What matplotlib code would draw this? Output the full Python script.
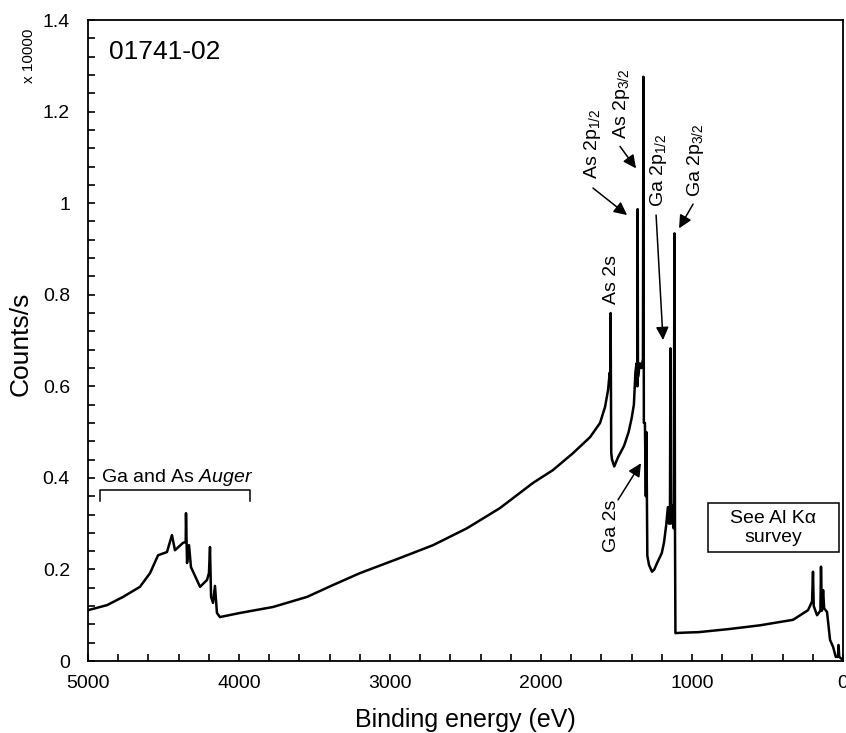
import matplotlib
matplotlib.use("Agg")
import matplotlib.pyplot as plt
from matplotlib.patches import Rectangle
from matplotlib.ticker import MultipleLocator, FormatStrFormatter

plt.rcParams['font.family'] = ['Liberation Sans', 'DejaVu Sans']
plt.rcParams['mathtext.fontset'] = 'custom'
plt.rcParams['mathtext.rm'] = 'Liberation Sans'
plt.rcParams['mathtext.it'] = 'Liberation Sans:italic'

# spectrum (binding energy in eV, counts/s in units of 10000)
energy = [5000, 4874, 4768, 4656, 4589, 4536, 4477, 4444, 4424, 4371, 4353, 4351,
          4344, 4331, 4318, 4258, 4212, 4199, 4192, 4185, 4172, 4159, 4146, 4126,
          3993, 3775, 3550, 3377, 3199, 2934, 2715, 2490, 2272, 2053, 1921, 1788,
          1675, 1609, 1576, 1556, 1545, 1541, 1539, 1537, 1535, 1530, 1515, 1490,
          1450, 1420, 1400, 1385, 1375, 1368, 1362, 1360, 1358, 1345, 1335, 1325,
          1322, 1319, 1312, 1306, 1302, 1296, 1285, 1265, 1250, 1230, 1200, 1185,
          1170, 1160, 1152, 1146, 1143, 1140, 1130, 1122, 1116, 1113, 1110, 1050,
          958, 750, 550, 331, 232, 205, 199, 194, 172, 150, 146, 140, 132, 125,
          106, 86, 66, 48, 33, 30, 25, 10, 0]
counts = [0.111, 0.122, 0.140, 0.162, 0.192, 0.231, 0.238, 0.275, 0.242, 0.258, 0.260, 0.323,
          0.214, 0.253, 0.205, 0.162, 0.177, 0.192, 0.249, 0.140, 0.127, 0.164, 0.105, 0.096,
          0.105, 0.118, 0.140, 0.166, 0.192, 0.225, 0.253, 0.290, 0.334, 0.389, 0.417, 0.454,
          0.489, 0.520, 0.555, 0.592, 0.630, 0.620, 0.760, 0.600, 0.455, 0.440, 0.425, 0.445,
          0.470, 0.500, 0.530, 0.560, 0.630, 0.650, 0.600, 0.987, 0.620, 0.650, 0.640, 0.660,
          1.276, 0.520, 0.520, 0.360, 0.500, 0.230, 0.210, 0.195, 0.200, 0.215, 0.236, 0.260,
          0.300, 0.336, 0.300, 0.330, 0.683, 0.300, 0.340, 0.290, 0.934, 0.300, 0.061, 0.062,
          0.063, 0.070, 0.078, 0.090, 0.111, 0.130, 0.195, 0.120, 0.100, 0.110, 0.206, 0.110,
          0.155, 0.115, 0.107, 0.046, 0.031, 0.009, 0.009, 0.035, 0.009, 0.005, 0.0]

fig = plt.figure(figsize=(8.46, 7.33), dpi=100)
ax = fig.add_axes([0.104, 0.0982, 0.8925, 0.8745])

ax.plot(energy, counts, color='black', lw=1.8)

ax.set_xlim(5000, 0)
ax.set_ylim(0, 1.4)
ax.xaxis.set_major_locator(MultipleLocator(1000))
ax.xaxis.set_minor_locator(MultipleLocator(200))
ax.yaxis.set_major_locator(MultipleLocator(0.2))
ax.yaxis.set_minor_locator(MultipleLocator(0.04))
ax.yaxis.set_major_formatter(FormatStrFormatter('%g'))
ax.tick_params(which='both', direction='in', length=5, width=1.2, labelsize=14)
ax.tick_params(axis='x', pad=10)
ax.tick_params(axis='y', pad=13)
for s in ax.spines.values():
    s.set_linewidth(1.3)

ax.set_xlabel('Binding energy (eV)', fontsize=18)
ax.set_ylabel('Counts/s', fontsize=19)
ax.xaxis.set_label_coords(0.5, -0.074)
ax.yaxis.set_label_coords(-0.073, 0.495)

fig.text(0.034, 0.924, 'x 10000', rotation=90, fontsize=11, ha='center', va='center')
ax.text(4490, 1.33, '01741-02', fontsize=19, ha='center', va='center')

# peak labels
arrow = dict(arrowstyle='-|>,head_length=0.65,head_width=0.32', color='black',
             lw=1.1, shrinkA=0, shrinkB=0, mutation_scale=12)
ax.text(1530, 0.834, 'As 2s', rotation=90, fontsize=14, ha='center', va='center')
ax.text(1662, 1.129, r'As 2p$_{1/2}$', rotation=90, fontsize=14, ha='center', va='center')
ax.annotate('', xy=(1430, 0.974), xytext=(1656, 1.033), arrowprops=arrow)
ax.text(1470, 1.216, r'As 2p$_{3/2}$', rotation=90, fontsize=14, ha='center', va='center')
ax.annotate('', xy=(1371, 1.076), xytext=(1477, 1.124), arrowprops=arrow)
ax.text(1219, 1.072, r'Ga 2p$_{1/2}$', rotation=90, fontsize=14, ha='center', va='center')
ax.annotate('', xy=(1192, 0.701), xytext=(1238, 0.974), arrowprops=arrow)
ax.text(980, 1.094, r'Ga 2p$_{3/2}$', rotation=90, fontsize=14, ha='center', va='center')
ax.annotate('', xy=(1086, 0.945), xytext=(993, 0.998), arrowprops=arrow)
ax.text(1530, 0.295, 'Ga 2s', rotation=90, fontsize=14, ha='center', va='center')
ax.annotate('', xy=(1338, 0.432), xytext=(1490, 0.352), arrowprops=arrow)

# Al K-alpha box
ax.add_patch(Rectangle((894, 0.238), 26 - 894, 0.345 - 0.238, fill=False,
                       edgecolor='black', lw=1.1))
ax.text(464, 0.291, 'See Al K\u03b1\nsurvey', fontsize=14, ha='center', va='center',
        linespacing=1.15)

# Auger bracket
ax.plot([4921, 4921, 3927, 3927], [0.349, 0.373, 0.373, 0.349], color='black', lw=1.1)
ax.text(4407, 0.40, r'Ga and As $\it{Auger}$', fontsize=14, ha='center', va='center')

fig.savefig('out.png', dpi=100)
